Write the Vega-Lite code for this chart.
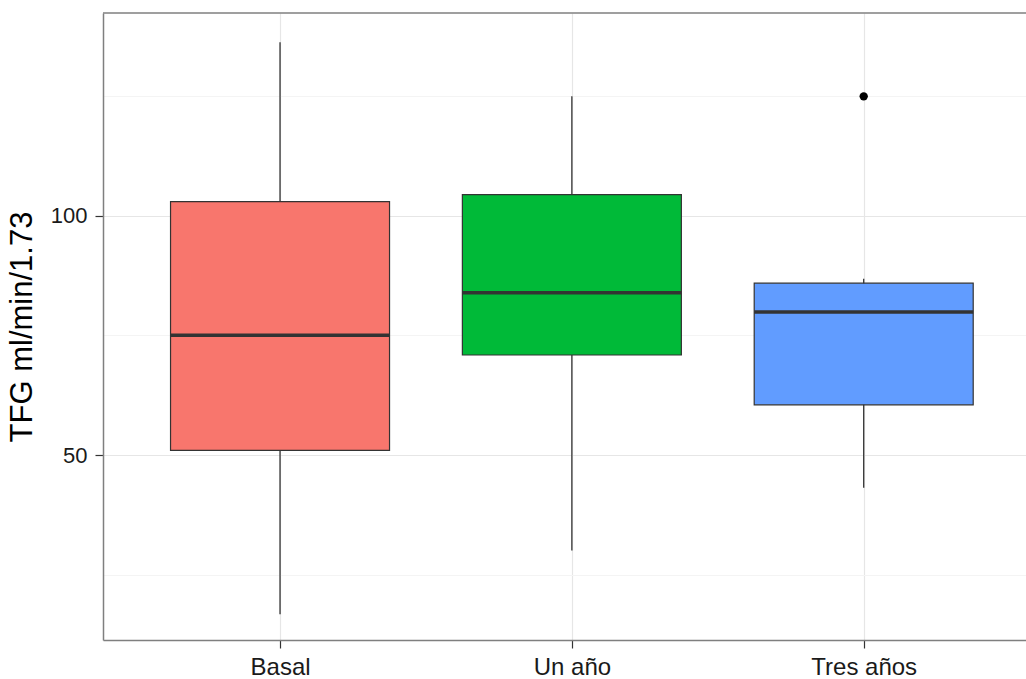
{
  "$schema": "https://vega.github.io/schema/vega-lite/v6.json",
  "autosize": "none",
  "width": 923,
  "height": 627,
  "padding": {"left": 103, "top": 13, "right": 0, "bottom": 39},
  "background": "white",
  "config": {
    "view": {"stroke": null},
    "font": "Liberation Sans"
  },
  "datasets": {
    "boxes": [
      {"grupo": "Basal", "pos": 1, "min": 16.8, "q1": 51.0, "median": 75.0, "q3": 102.9, "max": 136.2},
      {"grupo": "Un año", "pos": 2, "min": 30.1, "q1": 70.9, "median": 83.9, "q3": 104.4, "max": 124.9},
      {"grupo": "Tres años", "pos": 3, "min": 43.2, "q1": 60.5, "median": 79.9, "q3": 85.9, "max": 86.8}
    ],
    "outliers": [
      {"grupo": "Tres años", "pos": 3, "value": 124.9}
    ],
    "frame": [
      {"edge": "top", "value": 142.3}
    ]
  },
  "layer": [
    {
      "data": {"name": "boxes"},
      "mark": {"type": "rule", "color": "#333333", "strokeWidth": 1.3},
      "encoding": {
        "x": {
          "field": "pos", "type": "quantitative",
          "scale": {"domain": [0.4105, 3.539], "nice": false, "zero": false},
          "axis": {
            "values": [1, 2, 3],
            "labelExpr": "datum.value == 1 ? 'Basal' : datum.value == 2 ? 'Un año' : 'Tres años'",
            "title": null,
            "domain": true,
            "domainColor": "#7f7f7f",
            "domainWidth": 1.5,
            "grid": true,
            "gridColor": "#e6e6e6",
            "gridWidth": 1.2,
            "tickColor": "#333333",
            "tickSize": 8,
            "tickWidth": 1.2,
            "labelFontSize": 24,
            "labelColor": "#1a1a1a",
            "labelPadding": 7,
            "labelFlush": false
          }
        },
        "y": {
          "field": "min", "type": "quantitative",
          "scale": {"domain": [11.4, 142.3], "nice": false, "zero": false},
          "axis": {
            "values": [25, 50, 75, 100, 125],
            "labelExpr": "datum.value % 50 === 0 ? datum.label : ''",
            "title": "TFG ml/min/1.73",
            "titleFontSize": 31,
            "titleFontWeight": "normal",
            "titleColor": "#000000",
            "titlePadding": 12,
            "domain": true,
            "domainColor": "#7f7f7f",
            "domainWidth": 1.5,
            "grid": true,
            "gridColor": {"condition": {"test": "datum.value % 50 === 0", "value": "#e6e6e6"}, "value": "#f4f4f4"},
            "gridWidth": 1.2,
            "tickColor": "#333333",
            "tickOpacity": {"condition": {"test": "datum.value % 50 === 0", "value": 1}, "value": 0},
            "tickSize": 8,
            "tickWidth": 1.2,
            "labelFontSize": 22,
            "labelColor": "#1a1a1a",
            "labelPadding": 8
          }
        },
        "y2": {"field": "max"}
      }
    },
    {
      "data": {"name": "frame"},
      "mark": {"type": "rule", "color": "#7f7f7f", "strokeWidth": 1.5},
      "encoding": {
        "y": {"field": "value", "type": "quantitative"}
      }
    },
    {
      "data": {"name": "boxes"},
      "mark": {"type": "bar", "size": 219, "stroke": "#333333", "strokeWidth": 1.2, "opacity": 1},
      "encoding": {
        "x": {"field": "pos", "type": "quantitative"},
        "y": {"field": "q1", "type": "quantitative"},
        "y2": {"field": "q3"},
        "color": {
          "field": "grupo", "type": "nominal",
          "scale": {"domain": ["Basal", "Un año", "Tres años"], "range": ["#F8766D", "#00BA38", "#619CFF"]},
          "legend": null
        }
      }
    },
    {
      "data": {"name": "boxes"},
      "mark": {"type": "tick", "orient": "horizontal", "size": 219, "thickness": 3.5, "color": "#333333", "opacity": 1},
      "encoding": {
        "x": {"field": "pos", "type": "quantitative"},
        "y": {"field": "median", "type": "quantitative"}
      }
    },
    {
      "data": {"name": "outliers"},
      "mark": {"type": "point", "filled": true, "color": "#000000", "size": 70, "opacity": 1},
      "encoding": {
        "x": {"field": "pos", "type": "quantitative"},
        "y": {"field": "value", "type": "quantitative"}
      }
    }
  ]
}
